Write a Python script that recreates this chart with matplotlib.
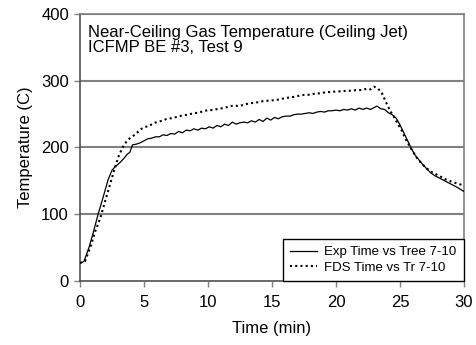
import matplotlib
matplotlib.use("Agg")
from matplotlib import pyplot as plt

plt.rcParams['font.family'] = ['Liberation Sans', 'DejaVu Sans']

# Experimental data (Tree 7-10)
exp_time = [0, 0.3, 0.7, 1.0, 1.4, 1.8, 2.2, 2.5, 2.8, 3.1, 3.4, 3.7, 3.9, 4.1,
            4.4, 4.7, 5.0, 5.3, 5.6, 5.9, 6.2, 6.5, 6.8, 7.1, 7.4, 7.7, 8.0,
            8.3, 8.6, 8.9, 9.2, 9.5, 9.8, 10.1, 10.4, 10.7, 11.0, 11.3, 11.6,
            11.9, 12.2, 12.5, 12.8, 13.1, 13.4, 13.7, 14.0, 14.3, 14.6, 14.9,
            15.2, 15.5, 15.8, 16.1, 16.4, 16.7, 17.0, 17.3, 17.6, 17.9, 18.2,
            18.5, 18.8, 19.1, 19.4, 19.7, 20.0, 20.3, 20.6, 20.9, 21.2, 21.5,
            21.8, 22.1, 22.4, 22.7, 23.0, 23.2, 23.5, 23.8, 24.1, 24.4, 24.7,
            25.0, 25.3, 25.6, 25.9, 26.2, 26.5, 26.8, 27.1, 27.4, 27.7, 28.0,
            28.5, 29.0, 29.5, 30.0]
exp_temp = [27, 29, 50, 70, 99, 125, 152, 166, 172, 177, 183, 190, 193, 204,
            205, 207, 210, 213, 214, 216, 216, 219, 218, 221, 220, 224, 222,
            226, 225, 228, 226, 229, 228, 231, 229, 233, 231, 235, 233,
            238, 235, 237, 238, 237, 240, 238, 242, 239, 244, 241,
            245, 243, 246, 247, 247, 249, 250, 250, 251, 252, 251,
            253, 254, 253, 255, 255, 256, 255, 257, 256, 258, 256,
            259, 257, 259, 257, 260, 262, 258, 257, 252, 249, 244,
            234, 222, 210, 198, 188, 181, 174, 168, 162, 158, 155,
            150, 145, 140, 134]

# FDS prediction (Tr 7-10)
fds_time = [0, 0.4, 0.8, 1.2, 1.6, 2.0, 2.4, 2.7, 3.0, 3.3, 3.6, 3.9, 4.2,
            4.5, 4.8, 5.1, 5.4, 5.7, 6.0, 6.4, 6.8, 7.2, 7.6, 8.0, 8.4, 8.8,
            9.2, 9.6, 10.0, 10.4, 10.8, 11.2, 11.6, 12.0, 12.4, 12.8, 13.2,
            13.6, 14.0, 14.4, 14.8, 15.2, 15.6, 16.0, 16.4, 16.8, 17.2, 17.6,
            18.0, 18.4, 18.8, 19.2, 19.6, 20.0, 20.4, 20.8, 21.2, 21.6, 22.0,
            22.4, 22.7, 23.0, 23.3, 23.6, 23.9, 24.2, 24.5, 24.8, 25.1, 25.4,
            25.7, 26.0, 26.3, 26.6, 27.0, 27.4, 27.8, 28.2, 28.6, 29.0, 29.5,
            30.0]
fds_temp = [27, 30, 50, 75, 95, 122, 148, 168, 186, 199, 208, 214, 218,
            223, 228, 231, 232, 236, 238, 240, 243, 244, 246, 248, 249, 251,
            252, 254, 256, 256, 258, 259, 261, 263, 262, 264, 266,
            267, 268, 270, 270, 271, 272, 274, 275, 276, 278, 279,
            279, 281, 281, 283, 283, 284, 284, 285, 285, 286, 286,
            288, 287, 291, 288, 281, 268, 256, 247, 236, 227, 214,
            204, 194, 185, 178, 170, 164, 160, 156, 152, 149, 146,
            143]

x_ticks = [0, 5, 10, 15, 20, 25, 30]
y_ticks = [0, 100, 200, 300, 400]

fig = plt.figure(figsize=(4.77, 3.45), dpi=100)
ax = fig.add_axes([0.1677, 0.1855, 0.805, 0.774])

grid_color = '#808080'
for y in y_ticks[1:]:
    ax.axhline(y, color=grid_color, linewidth=1.5, zorder=1)

ax.plot(exp_time, exp_temp, color='black', linewidth=0.9,
        label='Exp Time vs Tree 7-10', zorder=3)
ax.plot(fds_time, fds_temp, color='black', linewidth=1.5,
        linestyle=(0, (1, 1.5)), label='FDS Time vs Tr 7-10', zorder=3)

ax.set_xlim(0, 30)
ax.set_ylim(0, 400)
ax.set_xticks(x_ticks)
ax.set_yticks(y_ticks)
ax.tick_params(direction='out', length=4, width=1, color=grid_color,
               labelsize=12, pad=4)
ax.tick_params(axis='x', pad=6)

for side in ['top', 'right']:
    ax.spines[side].set_color(grid_color)
    ax.spines[side].set_linewidth(1.2)
for side in ['left', 'bottom']:
    ax.spines[side].set_color('#505050')
    ax.spines[side].set_linewidth(1.2)

ax.set_xlabel('Time (min)', fontsize=12, labelpad=8)
ax.set_ylabel('Temperature (C)', fontsize=12, labelpad=6)

ax.text(0.02, 0.958, 'Near-Ceiling Gas Temperature (Ceiling Jet)\nICFMP BE #3, Test 9',
        transform=ax.transAxes, fontsize=12, va='top', ha='left',
        linespacing=1.0)

leg = ax.legend(loc='lower right', bbox_to_anchor=(1.0, 0.0), fontsize=9.5,
                frameon=True, fancybox=False, framealpha=1, edgecolor='black',
                handlelength=2.0, handletextpad=0.6, borderaxespad=0,
                borderpad=0.55, labelspacing=0.25)
leg.get_frame().set_linewidth(1.0)

fig.savefig('out.png', dpi=100)
